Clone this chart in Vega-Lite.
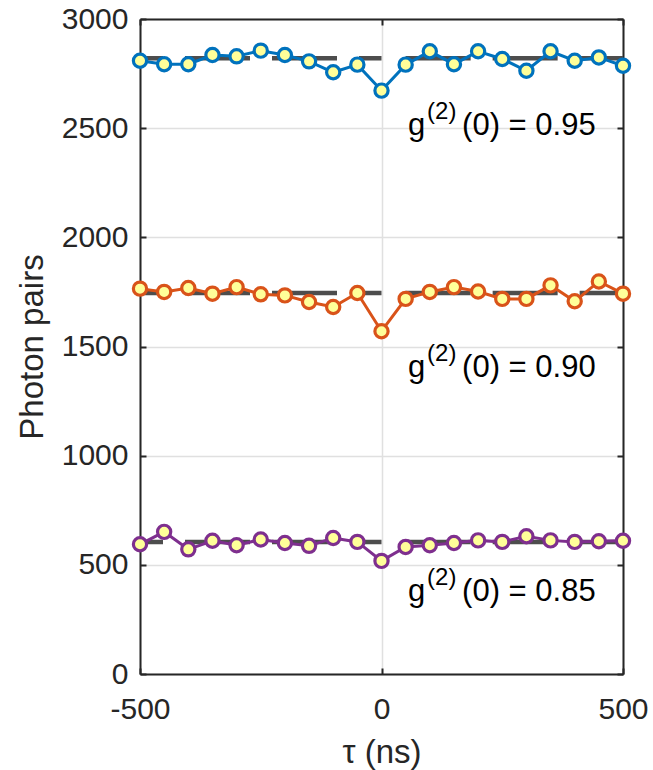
{
  "$schema": "https://vega.github.io/schema/vega-lite/v6.json",
  "width": 483,
  "height": 655,
  "autosize": "none",
  "padding": {"left": 140, "top": 19, "right": 30, "bottom": 96},
  "background": "white",
  "config": {
    "view": {"stroke": null},
    "font": "Liberation Sans",
    "axis": {
      "domainColor": "#262626",
      "domainWidth": 2,
      "tickColor": "#262626",
      "tickWidth": 2,
      "tickSize": -6,
      "labelFont": "Liberation Sans",
      "labelFontSize": 30,
      "labelColor": "#262626",
      "labelFlush": false,
      "titleFont": "Liberation Sans",
      "titleFontSize": 33,
      "titleFontWeight": "normal",
      "titleColor": "#262626",
      "gridColor": "#E0E0E0",
      "gridWidth": 1.5
    }
  },
  "datasets": {
    "pts": [
      {"series": "a", "tau": -500, "n": 2809},
      {"series": "a", "tau": -450, "n": 2793},
      {"series": "a", "tau": -400, "n": 2793},
      {"series": "a", "tau": -350, "n": 2835},
      {"series": "a", "tau": -300, "n": 2829},
      {"series": "a", "tau": -250, "n": 2855},
      {"series": "a", "tau": -200, "n": 2835},
      {"series": "a", "tau": -150, "n": 2806},
      {"series": "a", "tau": -100, "n": 2756},
      {"series": "a", "tau": -50, "n": 2791},
      {"series": "a", "tau": 0, "n": 2672},
      {"series": "a", "tau": 50, "n": 2791},
      {"series": "a", "tau": 100, "n": 2852},
      {"series": "a", "tau": 150, "n": 2793},
      {"series": "a", "tau": 200, "n": 2852},
      {"series": "a", "tau": 250, "n": 2817},
      {"series": "a", "tau": 300, "n": 2763},
      {"series": "a", "tau": 350, "n": 2852},
      {"series": "a", "tau": 400, "n": 2809},
      {"series": "a", "tau": 450, "n": 2824},
      {"series": "a", "tau": 500, "n": 2786},
      {"series": "b", "tau": -500, "n": 1765},
      {"series": "b", "tau": -450, "n": 1750},
      {"series": "b", "tau": -400, "n": 1768},
      {"series": "b", "tau": -350, "n": 1742},
      {"series": "b", "tau": -300, "n": 1772},
      {"series": "b", "tau": -250, "n": 1739},
      {"series": "b", "tau": -200, "n": 1734},
      {"series": "b", "tau": -150, "n": 1704},
      {"series": "b", "tau": -100, "n": 1681},
      {"series": "b", "tau": -50, "n": 1745},
      {"series": "b", "tau": 0, "n": 1570},
      {"series": "b", "tau": 50, "n": 1718},
      {"series": "b", "tau": 100, "n": 1750},
      {"series": "b", "tau": 150, "n": 1772},
      {"series": "b", "tau": 200, "n": 1752},
      {"series": "b", "tau": 250, "n": 1718},
      {"series": "b", "tau": 300, "n": 1718},
      {"series": "b", "tau": 350, "n": 1780},
      {"series": "b", "tau": 400, "n": 1707},
      {"series": "b", "tau": 450, "n": 1798},
      {"series": "b", "tau": 500, "n": 1742},
      {"series": "c", "tau": -500, "n": 594},
      {"series": "c", "tau": -450, "n": 651},
      {"series": "c", "tau": -400, "n": 571},
      {"series": "c", "tau": -350, "n": 610},
      {"series": "c", "tau": -300, "n": 590},
      {"series": "c", "tau": -250, "n": 616},
      {"series": "c", "tau": -200, "n": 600},
      {"series": "c", "tau": -150, "n": 587},
      {"series": "c", "tau": -100, "n": 623},
      {"series": "c", "tau": -50, "n": 605},
      {"series": "c", "tau": 0, "n": 518},
      {"series": "c", "tau": 50, "n": 582},
      {"series": "c", "tau": 100, "n": 590},
      {"series": "c", "tau": 150, "n": 600},
      {"series": "c", "tau": 200, "n": 612},
      {"series": "c", "tau": 250, "n": 605},
      {"series": "c", "tau": 300, "n": 631},
      {"series": "c", "tau": 350, "n": 612},
      {"series": "c", "tau": 400, "n": 605},
      {"series": "c", "tau": 450, "n": 608},
      {"series": "c", "tau": 500, "n": 610}
    ],
    "means": [
      {"series": "a", "seg": "L", "tau": -500, "n": 2820},
      {"series": "a", "seg": "L", "tau": 0, "n": 2820},
      {"series": "a", "seg": "R", "tau": 50, "n": 2820},
      {"series": "a", "seg": "R", "tau": 500, "n": 2820},
      {"series": "b", "seg": "L", "tau": -500, "n": 1745},
      {"series": "b", "seg": "L", "tau": 0, "n": 1745},
      {"series": "b", "seg": "R", "tau": 50, "n": 1745},
      {"series": "b", "seg": "R", "tau": 500, "n": 1745},
      {"series": "c", "seg": "L", "tau": -500, "n": 605},
      {"series": "c", "seg": "L", "tau": 0, "n": 605},
      {"series": "c", "seg": "R", "tau": 50, "n": 605},
      {"series": "c", "seg": "R", "tau": 500, "n": 605}
    ],
    "notes": [
      {"series": "a", "tau": 55, "n": 2470, "rest": "(0) = 0.95"},
      {"series": "b", "tau": 55, "n": 1362, "rest": "(0) = 0.90"},
      {"series": "c", "tau": 55, "n": 333, "rest": "(0) = 0.85"}
    ]
  },
  "resolve": {"axis": {"x": "independent", "y": "independent"}},
  "layer": [
    {
      "data": {"name": "means"},
      "transform": [{"filter": "datum.seg === 'L'"}],
      "mark": {"type": "line", "color": "#4D4D4D", "strokeWidth": 4.5, "strokeDash": [65, 22], "strokeDashOffset": 42},
      "encoding": {
        "x": {"field": "tau", "type": "quantitative", "scale": {"domain": [-500, 500], "nice": false, "zero": false, "padding": 0},
              "axis": {"values": [-500, 0, 500], "grid": true, "title": "τ (ns)", "labelPadding": 26, "titlePadding": 12, "labelExpr": "'' + datum.value"}},
        "y": {"field": "n", "type": "quantitative", "scale": {"domain": [0, 3000], "nice": false, "zero": false, "padding": 0},
              "axis": {"values": [0, 500, 1000, 1500, 2000, 2500, 3000], "grid": true, "title": "Photon pairs", "labelPadding": 18, "titlePadding": 12, "labelExpr": "'' + datum.value"}},
        "detail": {"field": "series"}
      }
    },
    {
      "data": {"name": "means"},
      "transform": [{"filter": "datum.seg === 'R'"}],
      "mark": {"type": "line", "color": "#4D4D4D", "strokeWidth": 4.5, "strokeDash": [65, 22]},
      "encoding": {
        "x": {"field": "tau", "type": "quantitative", "scale": {"domain": [-500, 500], "nice": false, "zero": false, "padding": 0},
              "axis": {"orient": "top", "values": [-500, 0, 500], "labels": false, "grid": false, "title": null}},
        "y": {"field": "n", "type": "quantitative", "scale": {"domain": [0, 3000], "nice": false, "zero": false, "padding": 0},
              "axis": {"orient": "right", "values": [0, 500, 1000, 1500, 2000, 2500, 3000], "labels": false, "grid": false, "title": null}},
        "detail": {"field": "series"}
      }
    },
    {
      "data": {"name": "pts"},
      "mark": {"type": "line", "strokeWidth": 3},
      "encoding": {
        "x": {"field": "tau", "type": "quantitative", "axis": null, "scale": {"domain": [-500, 500], "nice": false, "zero": false, "padding": 0}},
        "y": {"field": "n", "type": "quantitative", "axis": null, "scale": {"domain": [0, 3000], "nice": false, "zero": false, "padding": 0}},
        "color": {"field": "series", "type": "nominal", "legend": null,
                  "scale": {"domain": ["a", "b", "c"], "range": ["#0072BD", "#D95319", "#7E2F8E"]}}
      }
    },
    {
      "data": {"name": "pts"},
      "mark": {"type": "point", "shape": "circle", "filled": false, "fill": "#FFFF99", "fillOpacity": 1, "strokeWidth": 3.2, "size": 175, "opacity": 1},
      "encoding": {
        "x": {"field": "tau", "type": "quantitative", "axis": null, "scale": {"domain": [-500, 500], "nice": false, "zero": false, "padding": 0}},
        "y": {"field": "n", "type": "quantitative", "axis": null, "scale": {"domain": [0, 3000], "nice": false, "zero": false, "padding": 0}},
        "stroke": {"field": "series", "type": "nominal", "legend": null,
                   "scale": {"domain": ["a", "b", "c"], "range": ["#0072BD", "#D95319", "#7E2F8E"]}}
      }
    },
    {
      "data": {"name": "notes"},
      "mark": {"type": "text", "text": "g", "align": "left", "baseline": "alphabetic", "fontSize": 31, "color": "#000000"},
      "encoding": {
        "x": {"field": "tau", "type": "quantitative", "axis": null, "scale": {"domain": [-500, 500], "nice": false, "zero": false, "padding": 0}},
        "y": {"field": "n", "type": "quantitative", "axis": null, "scale": {"domain": [0, 3000], "nice": false, "zero": false, "padding": 0}}
      }
    },
    {
      "data": {"name": "notes"},
      "mark": {"type": "text", "text": "(2)", "align": "left", "baseline": "alphabetic", "fontSize": 24, "dx": 19, "dy": -16, "color": "#000000"},
      "encoding": {
        "x": {"field": "tau", "type": "quantitative", "axis": null, "scale": {"domain": [-500, 500], "nice": false, "zero": false, "padding": 0}},
        "y": {"field": "n", "type": "quantitative", "axis": null, "scale": {"domain": [0, 3000], "nice": false, "zero": false, "padding": 0}}
      }
    },
    {
      "data": {"name": "notes"},
      "mark": {"type": "text", "align": "left", "baseline": "alphabetic", "fontSize": 31, "dx": 54, "color": "#000000"},
      "encoding": {
        "x": {"field": "tau", "type": "quantitative", "axis": null, "scale": {"domain": [-500, 500], "nice": false, "zero": false, "padding": 0}},
        "y": {"field": "n", "type": "quantitative", "axis": null, "scale": {"domain": [0, 3000], "nice": false, "zero": false, "padding": 0}},
        "text": {"field": "rest"}
      }
    }
  ]
}
